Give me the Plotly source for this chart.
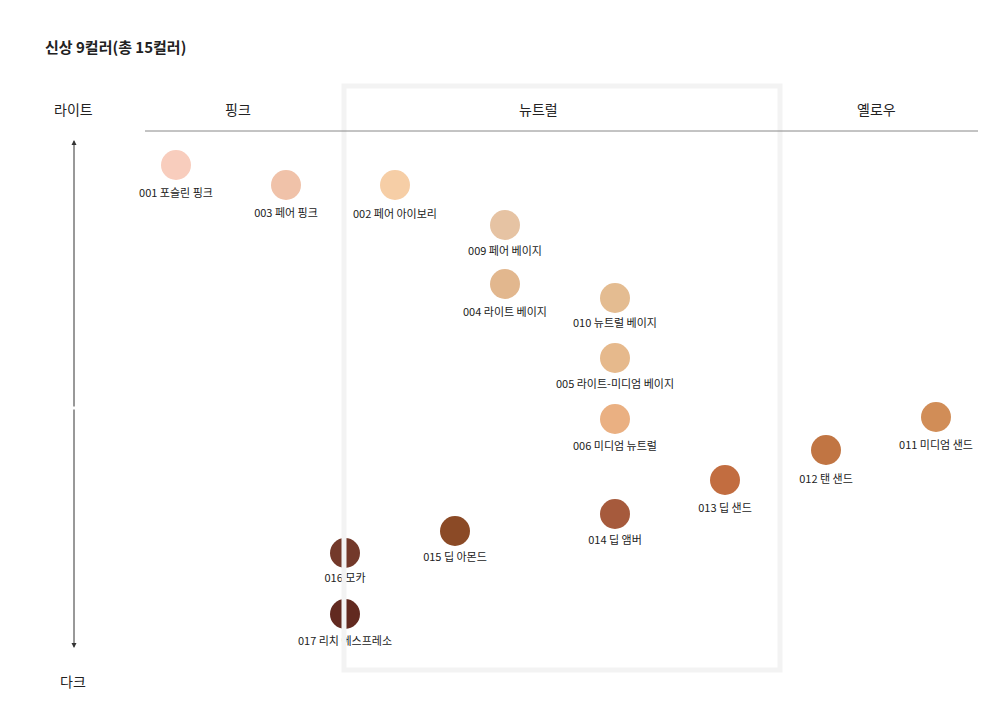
import plotly.graph_objects as go

names = ["001 포슬린 핑크","003 페어 핑크","002 페어 아이보리","009 페어 베이지","004 라이트 베이지",
         "010 뉴트럴 베이지","005 라이트-미디엄 베이지","006 미디엄 뉴트럴","013 딥 샌드","012 탠 샌드",
         "011 미디엄 샌드","014 딥 앰버","015 딥 아몬드","016 모카","017 리치 에스프레소"]
undertone = [168,278,387,497,497,607,607,607,717,818,928,607,447,337,337]
depth = [157,177,177,217,276,290,350,411,472,442,409,506,523,545,606]
label_depth = [186,206,207,244,305,316,377,439,501,472,438,533,550,571,634]
colors = ["#f8cdbd","#f0c2a9","#f6cea6","#e6c3a3","#e2b78e","#e4bc91","#e6b98c","#eab082","#c26d40",
          "#c17543","#d18d57","#a65a3c","#8b4a26","#73392a","#622a20"]
groups = ["핑크","뉴트럴","옐로우"]
group_x = [230,530,868]

FONT = "Noto Sans CJK KR"
fig = go.Figure()
fig.add_shape(type="rect", x0=336, x1=772, y0=78, y1=662, line=dict(color="#f3f3f3", width=5))
fig.add_shape(type="line", x0=137, x1=970, y0=123, y1=123, line=dict(color="#888", width=1))
fig.add_trace(go.Scatter(x=undertone, y=depth, mode="markers",
    marker=dict(size=30, color=colors, line=dict(width=0)), hoverinfo="skip"))
fig.add_trace(go.Scatter(x=undertone, y=label_depth, mode="text", text=names,
    textfont=dict(size=11, color="#222", family=FONT), hoverinfo="skip"))
for g, gx in zip(groups, group_x):
    fig.add_annotation(x=gx, y=101, text=g, showarrow=False, font=dict(size=14, color="#222", family=FONT))
fig.add_annotation(x=65, y=101, text="라이트", showarrow=False, font=dict(size=14, color="#222", family=FONT))
fig.add_annotation(x=65, y=673, text="다크", showarrow=False, font=dict(size=14, color="#222", family=FONT))
fig.add_annotation(x=35, y=38, text="<b>신상 9컬러(총 15컬러)</b>", showarrow=False, xanchor="left",
                   font=dict(size=15, color="#222", family=FONT))
for y0, y1 in [(400, 132), (400, 640)]:
    fig.add_annotation(x=66, y=y1, ax=66, ay=y0, xref="x", yref="y", axref="x", ayref="y",
                       showarrow=True, arrowhead=2, arrowsize=1, arrowwidth=1, arrowcolor="#333", text="")
fig.update_xaxes(range=[0,1000], visible=False, fixedrange=True)
fig.update_yaxes(range=[705,0], visible=False, fixedrange=True)
fig.update_layout(width=1000, height=705, margin=dict(l=0,r=0,t=0,b=0), showlegend=False,
                  plot_bgcolor="white", paper_bgcolor="white")
fig.write_html("out.html")
